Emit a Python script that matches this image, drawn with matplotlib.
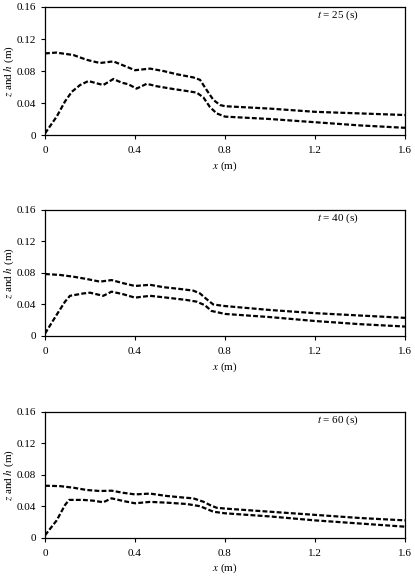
import matplotlib
matplotlib.use("Agg")
import matplotlib.pyplot as plt

plt.rcParams['font.family'] = ['Liberation Serif', 'DejaVu Serif']
plt.rcParams['mathtext.fontset'] = 'stix'

# t = 25 s
x25_up = [0.0, 0.05, 0.126, 0.185, 0.244, 0.304, 0.348, 0.40, 0.467, 0.526, 0.585, 0.659, 0.689, 0.719, 0.748, 0.778, 0.80, 1.0, 1.2, 1.4, 1.6]
h25_up = [0.102, 0.103, 0.100, 0.094, 0.090, 0.092, 0.087, 0.081, 0.083, 0.080, 0.076, 0.072, 0.069, 0.056, 0.044, 0.0375, 0.036, 0.033, 0.029, 0.027, 0.025]
x25_lo = [0.0, 0.052, 0.089, 0.119, 0.156, 0.193, 0.23, 0.259, 0.304, 0.341, 0.37, 0.407, 0.452, 0.496, 0.57, 0.63, 0.674, 0.704, 0.733, 0.763, 0.80, 1.0, 1.2, 1.4, 1.6]
z25_lo = [0.002, 0.023, 0.042, 0.054, 0.0625, 0.0675, 0.0646, 0.0625, 0.070, 0.0654, 0.0635, 0.058, 0.064, 0.061, 0.0575, 0.055, 0.053, 0.047, 0.035, 0.027, 0.023, 0.020, 0.016, 0.012, 0.009]

# t = 40 s
x40_up = [0.0, 0.067, 0.126, 0.185, 0.244, 0.296, 0.348, 0.40, 0.467, 0.526, 0.60, 0.659, 0.689, 0.719, 0.748, 0.80, 1.0, 1.2, 1.4, 1.6]
h40_up = [0.0787, 0.0775, 0.0753, 0.0724, 0.069, 0.071, 0.067, 0.0635, 0.065, 0.062, 0.0597, 0.0576, 0.054, 0.0466, 0.040, 0.038, 0.033, 0.029, 0.026, 0.023]
x40_lo = [0.0, 0.052, 0.089, 0.111, 0.17, 0.20, 0.259, 0.296, 0.348, 0.40, 0.467, 0.541, 0.63, 0.674, 0.711, 0.74, 0.80, 1.0, 1.2, 1.4, 1.6]
z40_lo = [0.003, 0.027, 0.0436, 0.051, 0.054, 0.055, 0.051, 0.0563, 0.053, 0.0487, 0.051, 0.0487, 0.0457, 0.0436, 0.039, 0.0318, 0.028, 0.024, 0.019, 0.015, 0.012]

# t = 60 s
x60_up = [0.0, 0.067, 0.126, 0.185, 0.244, 0.296, 0.348, 0.40, 0.467, 0.541, 0.615, 0.659, 0.704, 0.733, 0.763, 0.80, 1.0, 1.2, 1.4, 1.6]
h60_up = [0.066, 0.0655, 0.0635, 0.0606, 0.0593, 0.0597, 0.057, 0.055, 0.056, 0.053, 0.051, 0.050, 0.0457, 0.0415, 0.038, 0.037, 0.033, 0.029, 0.025, 0.022]
x60_lo = [0.0, 0.052, 0.089, 0.107, 0.17, 0.215, 0.259, 0.296, 0.348, 0.40, 0.467, 0.541, 0.63, 0.689, 0.719, 0.748, 0.80, 1.0, 1.2, 1.4, 1.6]
z60_lo = [0.003, 0.022, 0.0415, 0.048, 0.048, 0.047, 0.045, 0.050, 0.0466, 0.0437, 0.0455, 0.0445, 0.0428, 0.040, 0.0365, 0.033, 0.031, 0.027, 0.022, 0.018, 0.014]

times = ["25", "40", "60"]
panels = [(x25_up, h25_up, x25_lo, z25_lo),
          (x40_up, h40_up, x40_lo, z40_lo),
          (x60_up, h60_up, x60_lo, z60_lo)]

xticks = [0, 0.4, 0.8, 1.2, 1.6]
xticklabels = ["0", "0.4", "0.8", "1.2", "1.6"]
yticks = [0, 0.04, 0.08, 0.12, 0.16]
yticklabels = ["0", "0.04", "0.08", "0.12", "0.16"]

fig = plt.figure(figsize=(4.15, 5.83), dpi=100)
rects = [[0.1084, 0.7684, 0.8675, 0.2196],
         [0.1084, 0.4237, 0.8675, 0.2161],
         [0.1084, 0.0777, 0.8675, 0.2161]]

for rect, t, (xu, hu, xl, zl) in zip(rects, times, panels):
    ax = fig.add_axes(rect)
    for xs, ys in ((xu, hu), (xl, zl)):
        ax.plot(xs, ys, color='black', linewidth=1.6, linestyle=(0, (2.2, 1.0)),
                dash_capstyle='butt')
    ax.set_xlim(0, 1.6)
    ax.set_ylim(0, 0.16)
    ax.set_xticks(xticks)
    ax.set_xticklabels(xticklabels)
    ax.set_yticks(yticks)
    ax.set_yticklabels(yticklabels)
    ax.tick_params(direction='out', length=3, width=0.8, labelsize=8)
    ax.tick_params(axis='x', pad=5)
    ax.tick_params(axis='y', pad=3.5)
    for s in ax.spines.values():
        s.set_linewidth(0.9)
    ax.set_xlabel(r"$x$ (m)", fontsize=8, labelpad=3)
    ax.set_ylabel(r"$z$ and $h$ (m)", fontsize=8, labelpad=0)
    ax.text(0.755, 0.935, r"$t$ = " + t + " (s)", transform=ax.transAxes,
            fontsize=8, ha='left', va='center')

fig.savefig("out.png", dpi=100)
